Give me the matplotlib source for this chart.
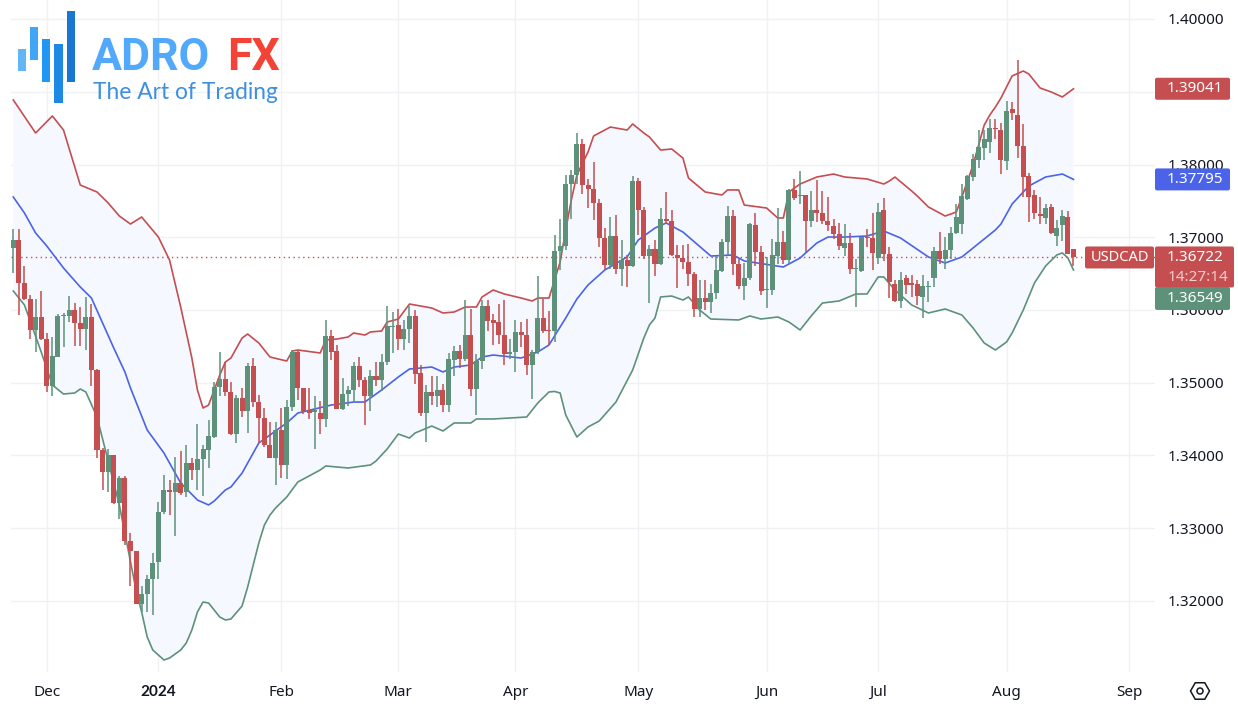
import numpy as np
import matplotlib
matplotlib.use('Agg')
import matplotlib.pyplot as plt
from matplotlib.patches import Rectangle, RegularPolygon, Circle, FancyBboxPatch

plt.rcParams['font.family'] = ['Noto Sans', 'DejaVu Sans']

# daily candles, prices in 1/100000 (1.36722 -> 136722), ten to a line
opens = [136858,136963,136368,136153,135727,135901,135599,134962,135360,135924,
135924,135997,135823,135745,135905,135182,134073,133780,134005,133341,
133684,132828,132681,131962,132095,132301,132530,133217,133528,133505,
133620,133492,133895,133803,133950,134078,134261,134939,135053,134870,
134289,134797,134618,135232,134737,134522,134147,133968,134353,133863,
134664,135429,134930,134623,134600,134591,134504,135640,135434,134641,
134843,134898,135228,135035,134815,135090,135035,135282,135768,135791,
135603,135736,135915,135136,134586,134870,134824,134898,134692,135319,
135438,135324,135658,134916,135301,136061,135860,135832,135663,135392,
135420,135704,135653,135250,135429,135896,135731,135708,136808,136876,
137728,137861,138278,137714,137660,137476,136995,136615,137023,136565,
136684,136602,137769,137380,136739,136844,136634,137252,137220,136762,
136721,136656,136496,136011,136166,136111,136240,136537,136931,137289,
136638,136331,136446,137174,136794,136272,136272,136744,136931,136684,
137655,137563,137577,137224,137380,137334,137224,137151,137041,136853,
136927,136560,136537,137005,136995,136721,137380,136776,136354,136125,
136437,136373,136354,136180,136322,136437,136817,136707,136821,137055,
137179,137531,137824,138063,138227,138310,138507,138479,138044,138759,
138676,138250,137838,137586,137316,137261,137417,137014,137169,137279,
136835]
highs = [137110,137110,136606,136208,136148,136263,135690,135626,135947,135956,
136194,136093,136047,136176,136084,135191,134101,134096,134005,133712,
133721,132933,132681,132200,132360,132658,133354,133734,133666,133986,
134064,134147,133963,134435,134147,134490,135017,135420,135282,135017,
134834,134925,135278,135337,134834,134650,134467,134467,134650,134765,
135452,135452,134930,134930,134815,134747,135860,135722,135516,135072,
134962,135287,135356,135081,135173,135287,135402,136061,135974,136011,
135860,136061,135997,135250,134966,135090,135090,134976,135411,135502,
135516,136134,136020,135402,136134,136144,135942,136079,136134,135608,
135860,135837,135882,135447,136469,136157,135988,137027,137252,137861,
137930,138438,138356,137806,138035,137522,137133,137279,137302,136959,
136753,137838,137820,137417,136899,136959,137408,137623,137371,136890,
136890,136904,136524,136409,136418,136363,136739,136982,137426,137380,
136707,136647,137197,137339,136881,136730,136982,137408,137087,137660,
137806,137907,137577,137632,137783,137637,137554,137256,137197,137179,
137064,136707,137005,137119,137334,137476,137540,136867,136418,136524,
136478,136478,136418,136478,136395,136867,137073,137005,137142,137463,
137737,137852,138150,138479,138470,138630,138621,138571,138873,138859,
139441,138553,137884,137646,137554,137463,137463,137234,137380,137362,
136844]
lows = [136515,135937,136139,135608,135424,135589,134879,134811,135351,135498,
135841,135511,135507,135452,134957,133959,133519,133505,133336,133125,
132773,132209,131957,131843,131843,131802,132305,133199,133176,132887,
133460,133423,133666,133519,133446,133826,134238,134811,134811,134280,
134170,134536,134316,134673,134170,134115,133963,133597,133689,133675,
134605,134765,134577,134495,134096,134302,134394,135310,134636,134632,
134678,134737,134944,134417,134614,134953,134889,135241,135411,135447,
135447,135548,134980,134541,134188,134692,134669,134600,134600,135090,
135209,135301,134815,134554,135195,135708,135525,135530,135250,135333,
135150,135493,135113,134779,135402,135690,135516,135562,136547,136821,
137256,137737,137591,137408,137234,136867,136547,136569,136501,136327,
136318,136592,137027,136707,136098,136469,136615,137188,136739,136308,
136569,136331,135905,135905,135997,135965,136157,136524,136753,136478,
136295,136144,136418,136606,136203,136034,136203,136638,136629,136638,
137518,137453,136798,137142,137211,137179,137087,136982,136821,136739,
136501,136043,136524,136867,136556,136638,136675,136171,136112,136034,
136226,136180,136066,135896,136112,136318,136638,136569,136707,137041,
137041,137508,137774,137957,138067,138159,138356,137875,137921,138608,
138095,137554,137206,137256,137179,137179,137050,136881,136950,136766,
136602]
closes = [136963,136368,136153,135727,135901,135599,134962,135370,135919,135933,
135997,135828,135745,135905,135182,134073,133780,134005,133341,133684,
132828,132681,131962,132095,132301,132521,133221,133528,133505,133620,
133483,133895,133803,133950,134092,134270,134944,135053,134866,134289,
134797,134618,135232,134737,134522,134147,133968,134353,133863,134664,
135429,134934,134609,134586,134623,134504,135640,135424,134641,134843,
134898,135228,135035,134815,135090,135044,135287,135782,135786,135603,
135736,135915,135118,134586,134870,134824,134898,134692,135324,135438,
135324,135658,134916,135301,136061,135850,135823,135663,135392,135429,
135704,135653,135250,135429,135896,135713,135708,136808,136876,137728,
137861,138278,137714,137660,137476,136995,136615,137023,136565,136684,
136606,137769,137380,136739,136844,136638,137252,137220,136753,136716,
136656,136496,136011,136166,136111,136240,136547,136931,137289,136638,
136331,136446,137179,136794,136263,136286,136753,136931,136684,137655,
137540,137582,137224,137380,137334,137220,137165,137041,136876,136927,
136569,136579,137005,136991,136785,137353,136776,136386,136125,136409,
136340,136340,136194,136327,136336,136817,136707,136821,137055,137275,
137563,137838,138072,138237,138356,138507,138493,138067,138731,138713,
138250,137829,137554,137334,137289,137408,137060,137133,137289,136776,
136722]

# bollinger bands, read at the marked candles
upper_idx = [0,4,7,9,12,15,17,19,21,23,26,28,30,32,33,34,35,37,38,39,41,42,44,46,49,50,51,55,56,58,60,61,63,64,66,67,69,71,73,75,77,79,81,83,84,86,88,91,93,94,96,97,98,99,100,101,103,104,107,110,111,113,114,116,118,120,121,124,127,128,130,131,135,137,138,139,141,144,147,149,153,156,157,158,161,162,164,167,169,170,172,174,175,176,177,179,181,182,184,186,188,190]
upper_val = [138887,138433,138667,138474,137718,137622,137471,137292,137182,137278,137003,136687,136041,135340,134900,134653,134694,135106,135285,135340,135615,135670,135546,135354,135299,135436,135450,135409,135588,135601,135629,135684,135656,135698,135711,135835,135876,136082,136055,136027,135959,135972,136041,136041,136179,136275,136220,136165,136124,136165,136165,136412,136660,137100,137512,137856,138172,138392,138515,138474,138557,138433,138378,138199,138213,138089,137814,137622,137581,137650,137650,137443,137402,137265,137265,137622,137732,137828,137869,137828,137801,137732,137773,137828,137636,137567,137416,137292,137347,137553,137993,138543,138680,138790,138914,139217,139285,139244,139052,138997,138928,139041]
middle_idx = [0,2,4,6,9,12,14,18,20,21,24,27,30,33,35,36,38,39,41,44,46,49,51,57,61,63,66,69,71,75,77,79,82,84,86,91,94,96,99,101,103,106,110,112,115,117,120,125,129,131,138,141,144,146,149,153,156,159,164,167,170,174,176,177,179,182,185,188,190]
middle_val = [137553,137333,137058,136880,136577,136316,136165,135478,135148,134928,134350,134034,133622,133388,133320,133374,133526,133567,133759,134172,134282,134447,134584,134694,134735,134735,134900,135079,135189,135216,135148,135216,135244,135354,135381,135340,135423,135519,135890,136151,136344,136550,136729,136962,137127,137196,137072,136742,136756,136674,136591,136715,136921,137003,137003,137017,137086,136990,136729,136646,136729,136976,137100,137182,137457,137704,137828,137869,137795]
lower_idx = [0,2,5,7,9,11,12,13,15,19,22,23,24,25,27,28,30,31,32,33,34,35,36,37,38,39,41,42,43,44,45,46,47,49,51,53,55,56,60,64,65,67,69,71,72,75,77,79,82,83,86,92,94,96,97,98,99,101,103,105,108,111,113,114,115,116,118,120,121,123,125,130,132,134,137,139,141,143,145,148,151,153,155,156,158,161,164,167,170,172,174,176,178,179,181,183,185,187,188,189,190]
lower_val = [136261,136069,135423,134969,134845,134859,134914,134873,134529,133320,132151,131849,131505,131326,131189,131216,131326,131423,131601,131849,131986,131972,131876,131780,131739,131752,131931,132192,132495,132797,133045,133182,133278,133429,133636,133718,133801,133856,133828,133869,133924,134089,134295,134240,134309,134405,134337,134447,134447,134502,134502,134529,134722,134873,134880,134859,134557,134254,134392,134474,134735,135175,135615,135794,135890,136179,136192,136137,136179,136000,135876,135863,135918,135876,135904,135835,135725,135918,136096,136124,136220,136220,136454,136454,136275,136069,135959,136014,135931,135753,135546,135450,135560,135684,136000,136371,136605,136756,136784,136715,136549]

y_ticks = [1.32, 1.33, 1.34, 1.35, 1.36, 1.37, 1.38, 1.39, 1.40]
y_tick_labels = ['1.32000', '1.33000', '1.34000', '1.35000', '1.36000', '1.37000', '1.38000', '', '1.40000']
month_idx = [6, 26, 48, 69, 90, 112, 135, 155, 178, 200]
month_labels = ['Dec', '2024', 'Feb', 'Mar', 'Apr', 'May', 'Jun', 'Jul', 'Aug', 'Sep']

last_price = 1.36722
upper_last = 1.39041
middle_last = 1.37795
lower_last = 1.36549

RED = '#c44e50'
GREEN = '#5d917a'
BLUE = '#4a63e8'
FS = 11

W, H = 1238, 710
fig = plt.figure(figsize=(W / 100, H / 100), dpi=100)
left, right, bottom, top = 11, 1155, 672, 0
ax = fig.add_axes([left / W, 1 - bottom / H, (right - left) / W, (bottom - top) / H])

step = 5.58
first = 13.3
ax.set_xlim((left - first) / step, (right - first) / step)
per_px = 0.08 / 582
ax.set_ylim(1.40 - (bottom - 19) * per_px, 1.40 + 19 * per_px)

for s in ax.spines.values():
    s.set_visible(False)
ax.set_axisbelow(True)
ax.grid(True, color='#f0f1f4', lw=1)
ax.yaxis.tick_right()
ax.set_yticks(y_ticks)
ax.set_yticklabels(y_tick_labels, fontsize=FS, color='#131722')
ax.set_xticks(month_idx)
ax.set_xticklabels(month_labels, fontsize=FS, color='#131722')
ax.tick_params(length=0)
ax.tick_params(axis='y', pad=9)
ax.tick_params(axis='x', pad=9)
year_label = ax.get_xticklabels()[1]
year_label.set_family('Lato')
year_label.set_fontweight('bold')

# band fill
ux = np.array(upper_idx)
lx = np.array(lower_idx)
uy = np.array(upper_val) / 1e5
ly = np.array(lower_val) / 1e5
ax.fill(np.r_[ux, lx[::-1]], np.r_[uy, ly[::-1]], color='#f5f9ff', lw=0, zorder=1)

ax.plot(ux, uy, color=RED, lw=1.2, zorder=2)
ax.plot(middle_idx, np.array(middle_val) / 1e5, color=BLUE, lw=1.2, zorder=2)
ax.plot(lx, ly, color=GREEN, lw=1.2, zorder=2)

# candles
o = np.array(opens) / 1e5
h = np.array(highs) / 1e5
l = np.array(lows) / 1e5
c = np.array(closes) / 1e5
xs = np.arange(len(o))
colors = [GREEN if cc >= oo else RED for oo, cc in zip(o, c)]
ax.vlines(xs, l, h, colors=colors, lw=1.1, zorder=3)
ax.bar(xs, np.abs(c - o), bottom=np.minimum(o, c), width=0.9, color=colors, lw=0, zorder=4)

# last price line
ax.axhline(last_price, color=RED, lw=1, ls=(0, (1, 2.5)), zorder=5)


def price_box(x0, x1, y, txt, color, txt_x=None, fs=FS, h_px=22):
    # label box on the axis, all in pixels from the bottom
    fig.add_artist(FancyBboxPatch((x0, y - h_px / 2), x1 - x0, h_px, boxstyle='round,pad=0,rounding_size=2',
                                  transform=None, fc=color, ec='none', zorder=6))
    cx = (x0 + x1) / 2 if txt_x is None else txt_x
    fig.text(cx / W, y / H, txt, color='white', fontsize=fs, ha='center', va='center', zorder=7)


def price_y(price):
    return ax.transData.transform((0, price))[1]


y_last = price_y(last_price)
price_box(1155, 1230, price_y(upper_last), '1.39041', RED, 1195)
price_box(1155, 1230, price_y(middle_last), '1.37795', BLUE, 1195)
price_box(1085, 1154, y_last, 'USDCAD', RED, fs=10.5)

fig.add_artist(FancyBboxPatch((1155, y_last - 30), 79, 41, boxstyle='round,pad=0,rounding_size=2',
                              transform=None, fc=RED, ec='none', zorder=6))
fig.text(1195 / W, y_last / H, '1.36722', color='white', fontsize=FS, ha='center', va='center', zorder=7)
fig.text(1198 / W, (y_last - 20) / H, '14:27:14', color='#f2cfcf', fontsize=FS, ha='center', va='center', zorder=7)
# the lower band label sits stacked under the last price box
price_box(1155, 1230, y_last - 41, '1.36549', GREEN, 1195, h_px=23)

# settings icon
fig.add_artist(RegularPolygon((1200, H - 691), 6, radius=9.5, orientation=np.pi / 6, transform=None,
                              fc='none', ec='#131722', lw=1.1))
fig.add_artist(Circle((1200, H - 691), 3, transform=None, fc='none', ec='#131722', lw=1.1))

# logo
logo_bars = [(18, 49, 8, 22, '#64b5f6'), (30, 27, 8, 33, '#42a5f5'), (42, 39, 8, 43, '#2196f3'),
             (54, 44, 9, 59, '#1e88e5'), (67, 11, 8, 71, '#1976d2')]
for bx, by, bw, bh, bc in logo_bars:
    fig.add_artist(Rectangle((bx, H - by - bh), bw, bh, transform=None, fc=bc, ec='none', zorder=8))
fig.text(92 / W, 1 - 70 / H, 'ADRO', family='Roboto', fontsize=32, fontweight='bold', color='#52a8fb', va='baseline', zorder=8)
fig.text(227 / W, 1 - 70 / H, 'FX', family='Roboto', fontsize=32, fontweight='bold', color='#f44336', va='baseline', zorder=8)
fig.text(93 / W, 1 - 99 / H, 'The Art of Trading', family='Lato', fontsize=16.4, color='#3d8fe0', va='baseline', zorder=8)

fig.savefig('out.png', dpi=100, facecolor='white')
